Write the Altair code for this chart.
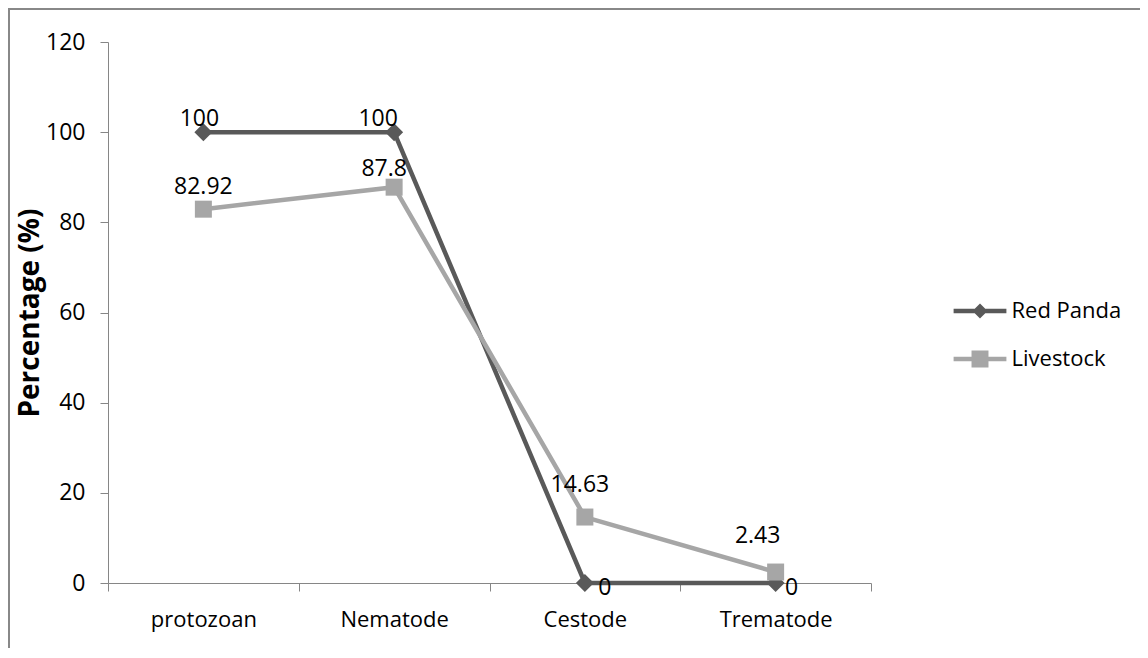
import altair as alt
import pandas as pd

categories = ["protozoan", "Nematode", "Cestode", "Trematode"]
series = ["Red Panda", "Livestock"]
red_panda = [100, 100, 0, 0]
livestock = [82.92, 87.8, 14.63, 2.43]
y_ticks = [0, 20, 40, 60, 80, 100, 120]

colors = ["#595959", "#a6a6a6"]
axis_color = "#868686"
FONT = "Open Sans"

PLOT_W, PLOT_H = 763, 541
PAD = {"left": 100, "top": 34, "right": 269, "bottom": 65}

rows = []
for s, vals in zip(series, [red_panda, livestock]):
    for c, v in zip(categories, vals):
        rows.append({"category": c, "series": s, "value": v, "label": f"{v:g}"})
df = pd.DataFrame(rows)

x_enc = alt.X(
    "category:N",
    sort=categories,
    scale=alt.Scale(type="band", paddingInner=0, paddingOuter=0),
    axis=alt.Axis(
        title=None, labelAngle=0, tickBand="extent", domainColor=axis_color,
        tickColor=axis_color, tickSize=8, labelFontSize=22, labelPadding=18,
        labelColor="#000000", labelFont=FONT, grid=False,
    ),
)
y_enc = alt.Y(
    "value:Q",
    scale=alt.Scale(domain=[0, 120], nice=False),
    axis=alt.Axis(
        values=y_ticks, title="Percentage (%)", titleFontSize=28, titleFontWeight="bold",
        titleFont=FONT, titleColor="#000000", titlePadding=1, grid=False, tickSize=8,
        labelPadding=15, labelFontSize=23, labelFont=FONT, labelColor="#000000",
        domainColor=axis_color, tickColor=axis_color,
    ),
)

base = alt.Chart(df)
one_row = alt.Data(values=[{}])

layers = []
# frame lines (top and left edges of the chart border)
right_edge = PLOT_W + PAD["right"]
bottom_edge = PLOT_H + PAD["bottom"]
layers.append(
    alt.Chart(one_row).mark_rule(color="#888888", strokeWidth=2)
    .encode(x=alt.value(-99), y=alt.value(-33), y2=alt.value(bottom_edge))
)
layers.append(
    alt.Chart(one_row).mark_rule(color="#888888", strokeWidth=2)
    .encode(x=alt.value(-100), x2=alt.value(right_edge), y=alt.value(-33))
)

shapes = {"Red Panda": ("diamond", 324), "Livestock": ("square", 289)}
for s, col in zip(series, colors):
    sub = base.transform_filter(alt.datum.series == s)
    layers.append(sub.mark_line(color=col, strokeWidth=4.5).encode(x=x_enc, y=y_enc))
    shp, sz = shapes[s]
    layers.append(
        sub.mark_point(filled=True, shape=shp, size=sz, color=col, opacity=1).encode(x=x_enc, y=y_enc)
    )

# data labels (offsets per point, as placed in the original)
offsets = {
    ("Red Panda", "protozoan"): (-4, -13),
    ("Red Panda", "Nematode"): (-16, -13),
    ("Red Panda", "Cestode"): (20, 5),
    ("Red Panda", "Trematode"): (16, 5),
    ("Livestock", "protozoan"): (0, -22),
    ("Livestock", "Nematode"): (-10, -18),
    ("Livestock", "Cestode"): (-5, -32),
    ("Livestock", "Trematode"): (-18, -36),
}
for (s, c), (dx, dy) in offsets.items():
    layers.append(
        base.transform_filter((alt.datum.series == s) & (alt.datum.category == c))
        .mark_text(fontSize=23, font=FONT, color="#000000", dx=dx, dy=dy,
                   align="center", baseline="middle")
        .encode(x=x_enc, y=y_enc, text="label:N")
    )

# legend (line + marker symbols)
diamond_path = "M-3.3,-0.28H3.3V0.28H-3.3Z M0,-0.94L0.94,0L0,0.94L-0.94,0Z"
square_path = "M-3.3,-0.28H3.3V0.28H-3.3Z M-1.06,-1.06H1.06V1.06H-1.06Z"
leg = alt.Legend(
    title=None, orient="none", legendX=861, legendY=258, symbolSize=256,
    labelFontSize=22, labelFont=FONT, labelColor="#000000", labelOffset=20.5,
    rowPadding=26, padding=0, symbolStrokeWidth=0, symbolOpacity=1,
)
legend_layer = base.transform_filter("datum.value < 0").mark_point(
    filled=True, size=256, opacity=1
).encode(
    color=alt.Color("series:N", scale=alt.Scale(domain=series, range=colors), legend=leg),
    shape=alt.Shape("series:N", scale=alt.Scale(domain=series, range=[diamond_path, square_path]), legend=leg),
)
layers.append(legend_layer)

chart = alt.layer(*layers).properties(
    width=PLOT_W, height=PLOT_H,
    autosize=alt.AutoSizeParams(type="none"),
    padding=PAD,
).configure(font=FONT).configure_view(stroke="transparent", strokeWidth=0)

chart.save("out.html", embed_options={"renderer": "svg", "actions": False})
